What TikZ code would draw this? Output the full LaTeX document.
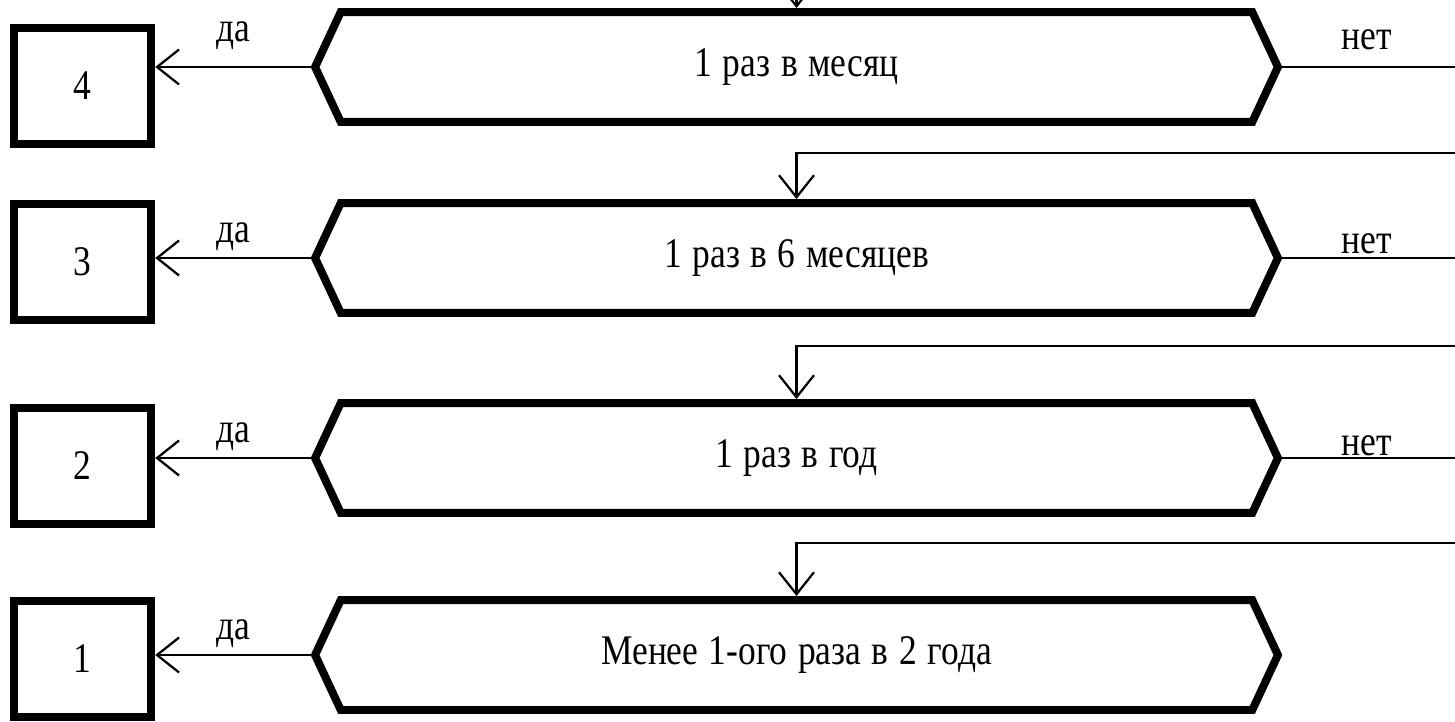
\documentclass[tikz,border=0pt]{standalone}
\usepackage{fontspec}
\setmainfont{Liberation Serif}[FakeStretch=0.84,WordSpace=1.2]
\usetikzlibrary{arrows.meta,shapes.symbols}

\tikzset{
	variant/.style={signal, signal to=east and west, signal pointer angle=130, draw, line width=0.16cm, minimum width=19.26cm, minimum height=2.2cm, inner sep=0pt},
	level/.style={rectangle, draw, line width=0.17cm, minimum width=2.74cm, minimum height=2.32cm, inner sep=0pt},
	arr/.style={-{Straight Barb[length=0.44cm,width=0.7cm]}, line width=0.045cm},
	lbl/.style={inner sep=0pt}
}

\begin{document}
\begin{tikzpicture}[x=0.02cm,y=-0.02cm,font=\fontsize{24}{28}\selectfont]
	\useasboundingbox (0,0) rectangle (1455,721);
	\clip (0,0) rectangle (1455,721);

	\node[variant] (q1) at (796.5,67) {1 раз в месяц};
	\node[variant] (q2) at (796.5,258) {1 раз в 6 месяцев};
	\node[variant] (q3) at (796.5,458) {1 раз в год};
	\node[variant] (q4) at (796.5,655) {Менее 1-ого раза в 2 года};

	\node[level] (b4) at (82.5,86) {4};
	\node[level] (b3) at (82.5,262) {3};
	\node[level] (b2) at (82.5,466) {2};
	\node[level] (b1) at (82.5,659) {1};

	% answers "yes"
	\draw[arr] (q1.west) -- node[lbl,above=0.32cm] {да} (q1.west -| b4.east);
	\draw[arr] (q2.west) -- node[lbl,above=0.12cm] {да} (q2.west -| b3.east);
	\draw[arr] (q3.west) -- node[lbl,above=0.12cm] {да} (q3.west -| b2.east);
	\draw[arr] (q4.west) -- node[lbl,above=0.12cm] {да} (q4.west -| b1.east);

	% answers "no", leaving at the right edge
	\coordinate (n1) at (1470,67);
	\coordinate (n2) at (1470,258);
	\coordinate (n3) at (1470,458);
	\draw[line width=0.045cm] (q1.east) -- node[lbl,pos=0.45,above=0.32cm] {нет} (n1);
	\draw[line width=0.045cm] (q2.east) -- node[lbl,pos=0.45,above=0.06cm] {нет} (n2);
	\draw[line width=0.045cm] (q3.east) -- node[lbl,pos=0.45,above=0.02cm] {нет} (n3);

	% coming back from the right edge
	\coordinate (t1) at (796.5,-40);
	\coordinate (t2) at (1470,153);
	\coordinate (t3) at (1470,346);
	\coordinate (t4) at (1470,543);
	\draw[arr] (t1) -- (q1.north);
	\draw[arr] (t2) -| (q2.north);
	\draw[arr] (t3) -| (q3.north);
	\draw[arr] (t4) -| (q4.north);

\end{tikzpicture}
\end{document}
